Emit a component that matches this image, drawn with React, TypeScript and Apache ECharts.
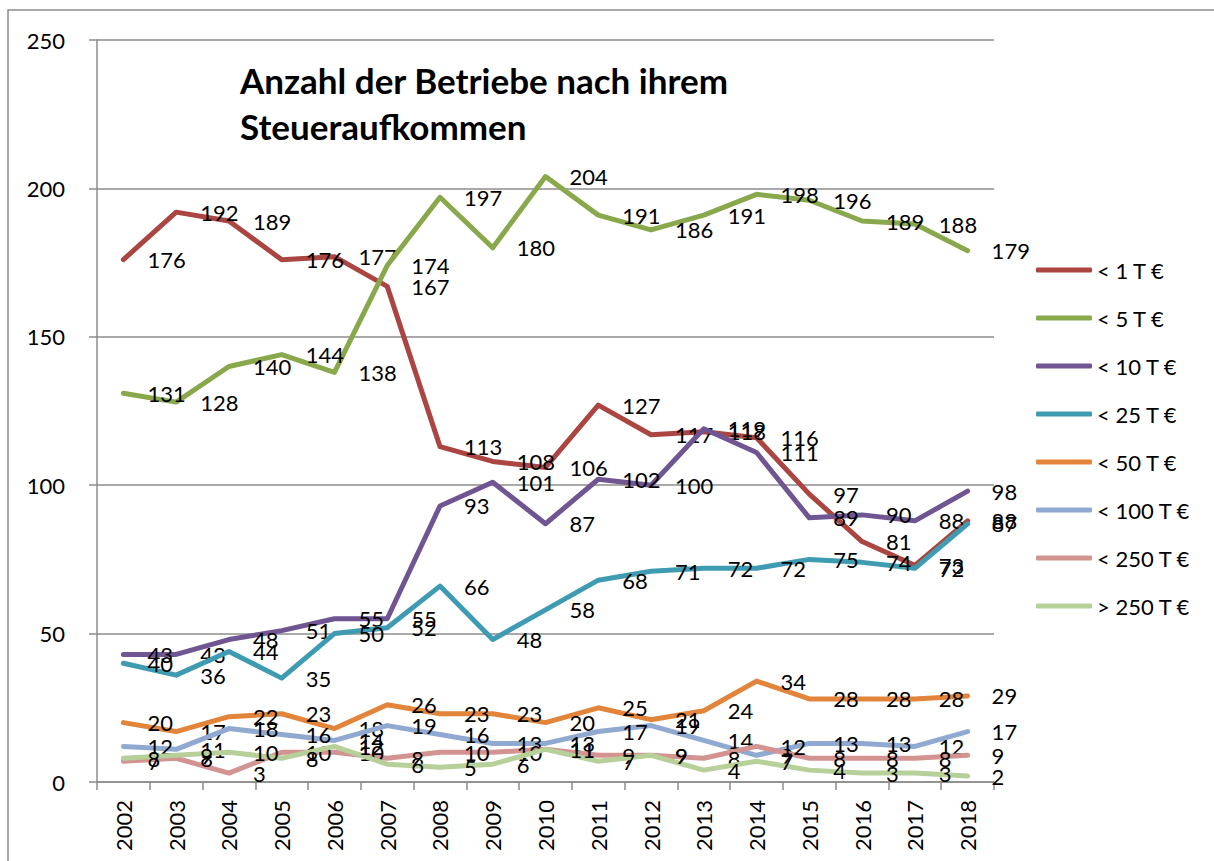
import React, { useEffect, useRef } from "react";
import * as echarts from "echarts";

const years = ["2002","2003","2004","2005","2006","2007","2008","2009","2010","2011","2012","2013","2014","2015","2016","2017","2018"];
const seriesNames = ["< 1 T €", "< 5 T €", "< 10 T €", "< 25 T €", "< 50 T €", "< 100 T €", "< 250 T €", "> 250 T €"];
const lt1 = [176,192,189,176,177,167,113,108,106,127,117,118,116,97,81,73,88];
const lt5 = [131,128,140,144,138,174,197,180,204,191,186,191,198,196,189,188,179];
const lt10 = [43,43,48,51,55,55,93,101,87,102,100,119,111,89,90,88,98];
const lt25 = [40,36,44,35,50,52,66,48,58,68,71,72,72,75,74,72,87];
const lt50 = [20,17,22,23,18,26,23,23,20,25,21,24,34,28,28,28,29];
const lt100 = [12,11,18,16,14,19,16,13,13,17,19,14,9,13,13,12,17];
const lt250 = [7,8,3,10,10,8,10,10,11,9,9,8,12,8,8,8,9];
const gt250 = [8,9,10,8,12,6,5,6,11,7,9,4,7,4,3,3,2];
const seriesData = [lt1, lt5, lt10, lt25, lt50, lt100, lt250, gt250];
const colors = ["#AA4541", "#89A84B", "#6F5592", "#3E9BB2", "#E2843A", "#90A9D1", "#D39391", "#B7D09A"];
const yTicks = { min: 0, max: 250, interval: 50 };

const FONT = "Lato, 'Open Sans', sans-serif";
const GRAY = "#8c8c8c";

export default function App() {
  const ref = useRef<HTMLDivElement>(null);
  useEffect(() => {
    if (!ref.current) return;
    const chart = echarts.init(ref.current, null, { renderer: "svg" });
    chart.setOption({
      animation: false,
      backgroundColor: "#ffffff",
      textStyle: { fontFamily: FONT },
      grid: { left: 97, right: 220, top: 40, bottom: 79, containLabel: false },
      legend: {
        orient: "vertical",
        left: 1031,
        top: 254,
        itemWidth: 56,
        itemHeight: 5,
        itemGap: 26,
        icon: "roundRect",
        data: seriesNames,
        textStyle: { fontSize: 22, color: "#000", fontFamily: FONT },
      },
      xAxis: {
        type: "category",
        data: years,
        boundaryGap: true,
        axisLine: { show: true, lineStyle: { color: GRAY, width: 1.5 } },
        axisTick: { show: true, length: 8, interval: 0, lineStyle: { color: GRAY, width: 1.5 } },
        axisLabel: { rotate: 90, fontSize: 22, margin: 18, interval: 0, color: "#000", fontFamily: FONT },
        splitLine: { show: false },
      },
      yAxis: {
        type: "value",
        min: yTicks.min,
        max: yTicks.max,
        interval: yTicks.interval,
        axisLine: { show: true, lineStyle: { color: GRAY, width: 1.5 } },
        axisTick: { show: true, length: 8, lineStyle: { color: GRAY, width: 1.5 } },
        axisLabel: { fontSize: 22, margin: 32, color: "#000", fontFamily: FONT },
        splitLine: { show: true, lineStyle: { color: GRAY, width: 1.5 } },
      },
      series: seriesNames.map((name, i) => ({
        name,
        type: "line",
        data: seriesData[i],
        symbol: "circle",
        symbolSize: 0.01,
        showSymbol: true,
        color: colors[i],
        itemStyle: { color: colors[i] },
        lineStyle: { width: 5, color: colors[i], cap: "round", join: "round" },
        label: {
          show: true,
          position: "right",
          distance: 24,
          fontSize: 22,
          color: "#000",
          fontFamily: FONT,
        },
        labelLayout: { hideOverlap: false },
        z: 2 + i,
      })),
      graphic: [
        {
          type: "rect",
          shape: { x: 8, y: 10, width: 1240, height: 900 },
          style: { fill: "none", stroke: GRAY, lineWidth: 1.5 },
          silent: true,
        },
        {
          type: "text",
          x: 240,
          y: 80,
          style: {
            text: "Anzahl der Betriebe nach ihrem",
            font: `bold 35px ${FONT}`,
            fill: "#000",
            textVerticalAlign: "middle",
          },
        },
        {
          type: "text",
          x: 240,
          y: 126,
          style: {
            text: "Steueraufkommen",
            font: `bold 35px ${FONT}`,
            fill: "#000",
            textVerticalAlign: "middle",
          },
        },
      ],
    });
    return () => chart.dispose();
  }, []);
  return (
    <div
      ref={ref}
      style={{ position: "fixed", left: 0, top: 0, width: 1214, height: 861 }}
    />
  );
}
